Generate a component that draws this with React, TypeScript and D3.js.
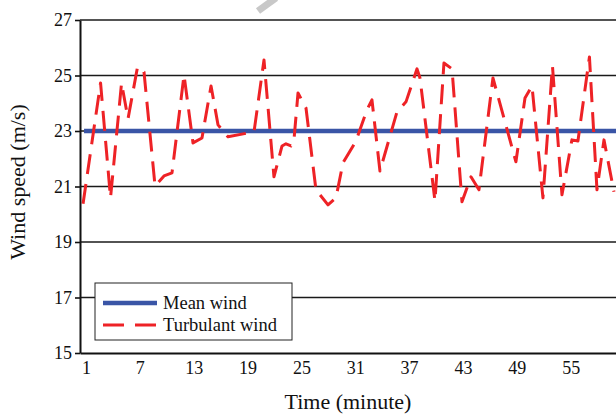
import React, { useEffect, useRef } from "react";
import * as d3 from "d3";

// time (minute) and turbulent wind speed (m/s)
const times = [
  0.67, 2.62, 3.73, 4.96, 5.68, 6.74, 7.46, 8.69, 9.69, 10.58, 11.92, 12.92, 13.92, 14.93,
  15.71, 16.82, 19.72, 20.83, 21.94, 22.84, 23.28, 23.84, 24.17, 24.62, 25.51, 26.62, 27.96,
  28.85, 29.63, 31.08, 32.3, 32.86, 33.75, 35.65, 36.65, 37.88, 38.21, 39.88, 40.88, 41.78,
  42.89, 43.89, 44.78, 46.34, 48.9, 49.91, 50.69, 51.91, 52.97, 54.03, 55.14, 55.81, 57.09,
  57.93, 58.71, 59.82,
];
const turbulent = [
  20.38, 24.73, 20.59, 24.73, 23.44, 25.31, 25.13, 21.02, 21.38, 21.49, 25.02, 22.57, 22.75, 24.62,
  23.22, 22.79, 22.97, 25.56, 21.35, 22.46, 22.54, 22.46, 22.68, 24.37, 23.83, 20.88, 20.34,
  20.59, 21.85, 22.64, 23.76, 24.12, 21.56, 23.69, 24.05, 25.24, 24.91, 20.48, 25.45, 25.24,
  20.45, 21.35, 20.88, 24.91, 21.89, 24.19, 24.62, 20.59, 25.34, 20.7, 22.68, 22.64, 25.67,
  20.88, 22.68, 20.81,
];
const meanTimes = [0.78, 60.05];
const meanWind = [23, 23];

const xTicks = [1, 7, 13, 19, 25, 31, 37, 43, 49, 55];
const yTicks = [15, 17, 19, 21, 23, 25, 27];
const legendLabels = ["Mean wind", "Turbulant wind"];

const W = 616;
const H = 414;
const left = 80;
const top = 20;
const bottom = 353;

export default function App() {
  const ref = useRef<SVGSVGElement>(null);

  useEffect(() => {
    document.body.style.margin = "0";
    const svg = d3.select(ref.current);
    svg.selectAll("*").remove();

    const font = "'Liberation Serif', 'Times New Roman', serif";
    const x = d3.scaleLinear().domain([0.33, 60.05]).range([left, W]);
    const y = d3.scaleLinear().domain([15, 27]).range([bottom, top]);

    // faint grey mark at the top edge of the original figure
    svg.append("line").attr("x1", 276).attr("y1", -2).attr("x2", 258).attr("y2", 11)
      .attr("stroke", "#c8c8c8").attr("stroke-width", 7);

    // horizontal grid
    svg.append("g").selectAll("line").data(yTicks.filter((d) => d !== 15)).join("line")
      .attr("x1", left).attr("x2", W).attr("y1", (d) => y(d)).attr("y2", (d) => y(d))
      .attr("stroke", "#1a1a1a").attr("stroke-width", 1.6);

    const line = d3.line<[number, number]>().x((d) => x(d[0])).y((d) => y(d[1]));

    svg.append("path").datum(meanTimes.map((t, i) => [t, meanWind[i]] as [number, number]))
      .attr("d", line).attr("fill", "none").attr("stroke", "#3a55a6").attr("stroke-width", 4.5);

    svg.append("path").datum(times.map((t, i) => [t, turbulent[i]] as [number, number]))
      .attr("d", line).attr("fill", "none").attr("stroke", "#ee2226").attr("stroke-width", 3)
      .attr("stroke-dasharray", "20 10").attr("stroke-linejoin", "round");

    // axes
    const yAxis = svg.append("g").attr("transform", `translate(${left},0)`)
      .call(d3.axisLeft(y).tickValues(yTicks).tickSize(5).tickPadding(3).tickSizeOuter(0));
    yAxis.select(".domain").attr("stroke", "#111").attr("stroke-width", 2);
    yAxis.selectAll(".tick line").attr("stroke", "#111").attr("stroke-width", 1.6);
    yAxis.selectAll("text").attr("font-family", font).attr("font-size", 18).attr("fill", "#111");

    const xAxis = svg.append("g").attr("transform", `translate(0,${bottom})`)
      .call(d3.axisBottom(x).tickValues(xTicks).tickSize(0).tickPadding(8).tickSizeOuter(0));
    xAxis.select(".domain").attr("stroke", "#111").attr("stroke-width", 2);
    xAxis.selectAll("text").attr("font-family", font).attr("font-size", 18).attr("fill", "#111");

    svg.append("text").attr("x", 348).attr("y", 409).attr("text-anchor", "middle")
      .attr("font-family", font).attr("font-size", 22).attr("fill", "#111").text("Time (minute)");
    svg.append("text").attr("transform", "translate(25,182) rotate(-90)").attr("text-anchor", "middle")
      .attr("font-family", font).attr("font-size", 22).attr("fill", "#111").text("Wind speed (m/s)");

    // legend
    const lg = svg.append("g");
    lg.append("rect").attr("x", 95).attr("y", 283).attr("width", 197).attr("height", 57)
      .attr("fill", "#fff").attr("stroke", "#222").attr("stroke-width", 1);
    const styles = [
      { color: "#3a55a6", width: 4.5, dash: null },
      { color: "#ee2226", width: 3, dash: "21 11" },
    ];
    legendLabels.forEach((label, i) => {
      const cy = 303 + i * 22;
      lg.append("line").attr("x1", 103).attr("x2", 157).attr("y1", cy).attr("y2", cy)
        .attr("stroke", styles[i].color).attr("stroke-width", styles[i].width)
        .attr("stroke-dasharray", styles[i].dash);
      lg.append("text").attr("x", 163).attr("y", cy + 5.5).attr("font-family", font)
        .attr("font-size", 18.5).attr("fill", "#111").text(label);
    });
  }, []);

  return <svg ref={ref} width={W} height={H} style={{ display: "block" }} />;
}
